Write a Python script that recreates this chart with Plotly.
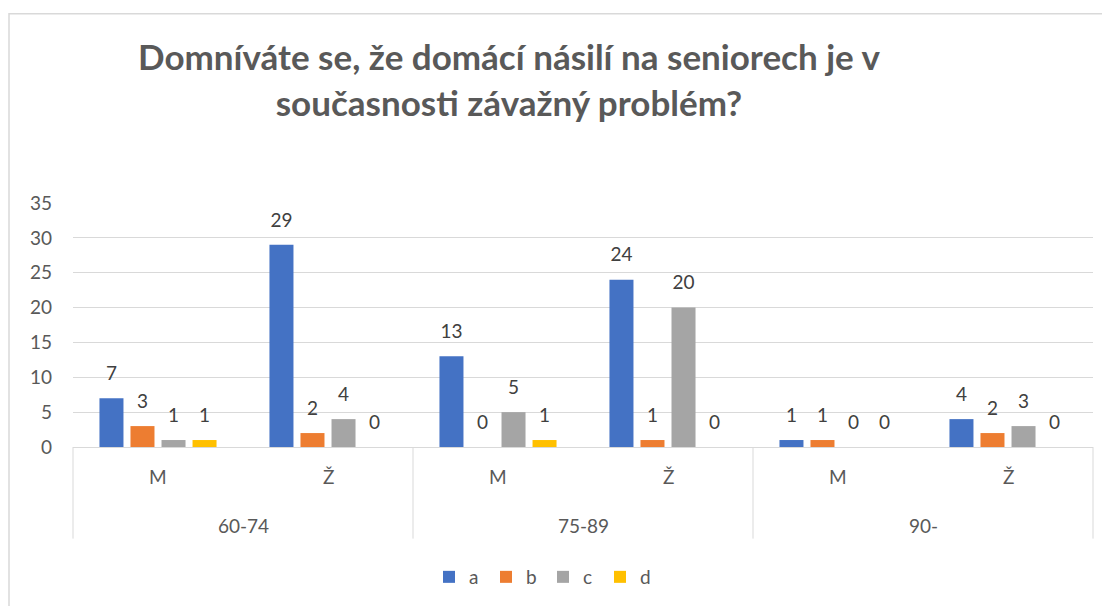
import plotly.graph_objects as go

age_groups = ["60-74", "60-74", "75-89", "75-89", "90-", "90-"]
genders = ["M", "Ž", "M", "Ž", "M", "Ž"]
group_labels = ["60-74", "75-89", "90-"]
series_names = ["a", "b", "c", "d"]
values_a = [7, 29, 13, 24, 1, 4]
values_b = [3, 2, 0, 1, 1, 2]
values_c = [1, 4, 5, 20, 0, 3]
values_d = [1, 0, 1, 0, 0, 0]
colors = ["#4472C4", "#ED7D31", "#A5A5A5", "#FFC000"]
title_text = "Domníváte se, že domácí násilí na seniorech je v<br>současnosti závažný problém?"
y_ticks = [0, 5, 10, 15, 20, 25, 30, 35]

FONT = "Lato"
OFF = 8  # page body margin
GAP = 0.27
cats = [f"{g} {s}" for g, s in zip(age_groups, genders)]

fig = go.Figure()
all_vals = [values_a, values_b, values_c, values_d]
for name, vals, col in zip(series_names, all_vals, colors):
    fig.add_trace(go.Bar(
        x=cats, y=vals, name=name, offsetgroup=name,
        marker=dict(color=col, line=dict(width=0)),
        hoverinfo="x+y+name",
    ))
for name, vals in zip(series_names, all_vals):
    fig.add_trace(go.Scatter(
        x=cats, y=vals, name=name, offsetgroup=name, orientation="v",
        mode="markers+text", text=[str(v) for v in vals], textposition="top center",
        marker=dict(size=20, opacity=0), showlegend=False, cliponaxis=False,
        textfont=dict(family=FONT, size=19, color="#404040"), hoverinfo="skip",
    ))

W, H = 1110 - OFF, 606 - OFF
L, R, T, B = 73 - OFF, 1093 - OFF, 203 - OFF, 448 - OFF
pw, ph = R - L, B - T

def px(x):
    return (x - OFF - L) / pw

def py(y):
    return (B - (y - OFF)) / ph

annotations = [dict(text="<b>" + title_text + "</b>", x=px(509), y=py(78), xref="paper", yref="paper",
                    xanchor="center", yanchor="middle", showarrow=False, align="center",
                    font=dict(family=FONT, size=35, color="#595959"))]
for c, s in zip(cats, genders):
    annotations.append(dict(text=s, x=c, xref="x", y=py(478), yref="paper", showarrow=False,
                            xanchor="center", yanchor="middle",
                            font=dict(family=FONT, size=19, color="#595959")))
n_groups = len(group_labels)
for i, g in enumerate(group_labels):
    annotations.append(dict(text=g, x=(i + 0.5) / n_groups, xref="paper", y=py(527), yref="paper",
                            showarrow=False, xanchor="center", yanchor="middle",
                            font=dict(family=FONT, size=19, color="#595959")))

shapes = [dict(type="rect", xref="paper", yref="paper", x0=px(9), x1=px(1300), y0=py(800), y1=py(13),
               line=dict(color="#D9D9D9", width=1.5), fillcolor="rgba(0,0,0,0)", layer="below")]
for i in range(n_groups + 1):
    shapes.append(dict(type="line", xref="paper", yref="paper", x0=i / n_groups, x1=i / n_groups,
                       y0=0, y1=py(540), line=dict(color="#D9D9D9", width=1)))

fig.update_layout(
    width=W, height=H,
    margin=dict(l=L, r=W - R, t=T, b=H - B),
    paper_bgcolor="white", plot_bgcolor="white",
    barmode="group", bargap=GAP, bargroupgap=0.226,
    scattermode="group", scattergap=GAP,
    font=dict(family=FONT, size=19, color="#595959"),
    showlegend=True,
    legend=dict(orientation="h", x=px(543), xanchor="center", y=py(577), yanchor="middle",
                font=dict(family=FONT, size=19, color="#595959"), itemwidth=30,
                entrywidth=12, entrywidthmode="pixels", traceorder="normal"),
    xaxis=dict(type="category", showgrid=False, showline=True, linecolor="#D9D9D9", linewidth=1,
               showticklabels=False, ticks=""),
    yaxis=dict(range=[0, 35], tickvals=y_ticks, showgrid=True, gridcolor="#D9D9D9", gridwidth=1,
               zeroline=False, showline=False, ticks="", ticklabelstandoff=20,
               tickfont=dict(family=FONT, size=19, color="#595959")),
    annotations=annotations,
    shapes=shapes,
)

fig.write_html("out.html")
